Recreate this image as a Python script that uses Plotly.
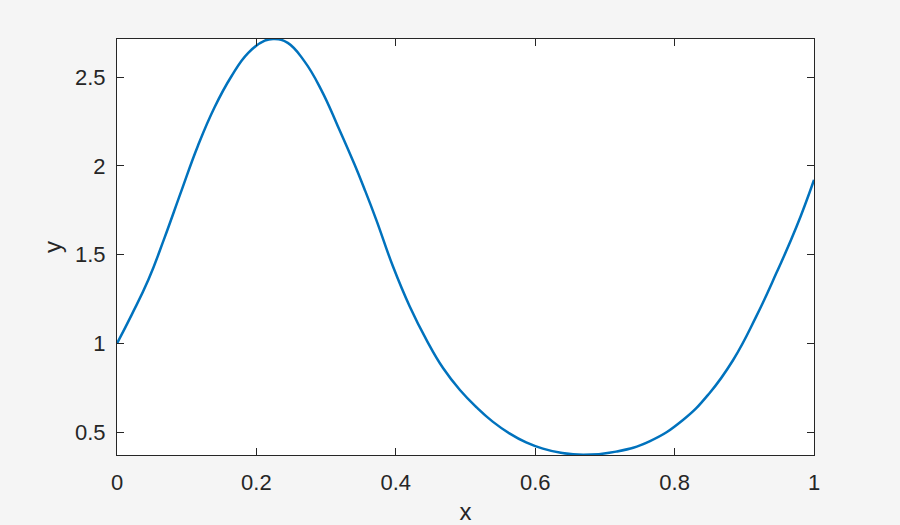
import plotly.graph_objects as go

# values
x_vals = [0.0, 0.021, 0.045, 0.068, 0.092, 0.116, 0.140, 0.164, 0.188, 0.212,
          0.226, 0.245, 0.269, 0.293, 0.317, 0.341, 0.355, 0.372, 0.396, 0.420,
          0.444, 0.468, 0.492, 0.516, 0.539, 0.563, 0.587, 0.611, 0.635, 0.669,
          0.716, 0.764, 0.812, 0.850, 0.884, 0.917, 0.946, 0.975, 1.0]
y_vals = [1.0, 1.161, 1.358, 1.593, 1.855, 2.112, 2.330, 2.503, 2.635, 2.705,
          2.714, 2.692, 2.588, 2.428, 2.222, 2.006, 1.870, 1.696, 1.433, 1.208,
          1.020, 0.860, 0.738, 0.640, 0.560, 0.494, 0.443, 0.408, 0.386, 0.373,
          0.391, 0.449, 0.569, 0.720, 0.907, 1.151, 1.396, 1.658, 1.921]

x_ticks = [0, 0.2, 0.4, 0.6, 0.8, 1]
x_labels = ['0', '0.2', '0.4', '0.6', '0.8', '1']
y_ticks = [0.5, 1, 1.5, 2, 2.5]
y_labels = ['0.5', '1', '1.5', '2', '2.5']

fig = go.Figure()
fig.add_trace(go.Scatter(x=x_vals, y=y_vals, mode='lines',
                         line=dict(color='#0072BD', width=2.5, shape='spline', smoothing=1.3),
                         showlegend=False, hoverinfo='x+y'))

axis_style = dict(showline=True, linecolor='#262626', linewidth=1, mirror='ticks',
                  ticks='inside', ticklen=7, tickcolor='#262626', showgrid=False,
                  zeroline=False, tickfont=dict(size=22, color='#262626'))

fig.update_xaxes(range=[0, 1], tickvals=x_ticks, ticktext=x_labels, ticklabelstandoff=8,
                 automargin=False,
                 title=dict(text='x', font=dict(size=24, color='#262626')),
                 **axis_style)
fig.update_yaxes(range=[0.372, 2.714], tickvals=y_ticks, ticktext=y_labels, ticklabelstandoff=6,
                 automargin=True,
                 title=dict(text='y', font=dict(size=24, color='#262626'), standoff=6),
                 **axis_style)

fig.update_layout(width=900, height=525,
                  paper_bgcolor='#f5f5f5', plot_bgcolor='white',
                  font=dict(family='Liberation Sans, Arial, sans-serif'),
                  margin=dict(l=117, r=86, t=39, b=70))

# drop the default page margin so the figure sits at the window corner
fig.write_html("out.html", config={'displayModeBar': False},
               post_script="document.body.style.margin='0';document.body.style.background='#f5f5f5';")
